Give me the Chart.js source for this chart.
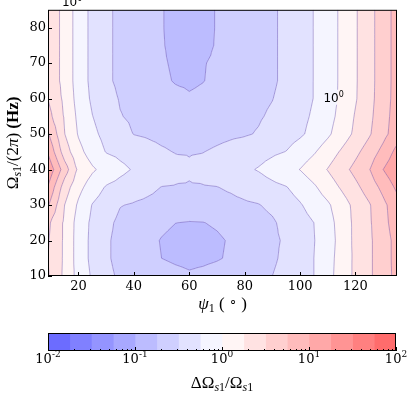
<!DOCTYPE html>
<html lang="en">
<head>
<meta charset="UTF-8">
<title>Contour</title>
<style>
  html, body { margin: 0; padding: 0; background: #fff; }
  #wrap { position: relative; width: 416px; height: 398px; }
  canvas { position: absolute; left: 0; }
  #contour { top: 0; }
  #cbar { top: 320px; }
</style>
</head>
<body>
<div id="wrap">
  <canvas id="contour" width="416" height="320"></canvas>
  <canvas id="cbar" width="416" height="78"></canvas>
</div>
<script src="https://cdn.jsdelivr.net/npm/chart.js@4.4.1/dist/chart.umd.min.js"></script>
<script>
// grid of the map: psi_1 (deg) along x, Omega_s1/(2pi) (Hz) along y
const psi = [9, 15, 20, 25, 30, 35, 40, 45, 50, 55, 60, 65, 70, 75, 80, 85, 90, 95, 100, 105, 110, 115, 120, 125, 130, 135];
const freq = [10, 15, 20, 25, 30, 35, 40, 45, 50, 55, 60, 65, 70, 75, 80, 85];

// log10(dOmega_s1 / Omega_s1), one row per frequency
const logRatio = [
  [0.52, 0.20, -0.09, -0.28, -0.45, -0.53, -0.57, -0.60, -0.64, -0.68, -0.72, -0.69, -0.65, -0.61, -0.57, -0.54, -0.50, -0.41, -0.33, -0.25, -0.08, 0.11, 0.30, 0.46, 0.64, 0.82],
  [0.50, 0.21, -0.11, -0.31, -0.47, -0.56, -0.63, -0.69, -0.75, -0.79, -0.81, -0.80, -0.77, -0.72, -0.66, -0.60, -0.54, -0.44, -0.35, -0.25, -0.09, 0.10, 0.30, 0.46, 0.64, 0.83],
  [0.52, 0.21, -0.11, -0.31, -0.47, -0.56, -0.63, -0.70, -0.76, -0.80, -0.82, -0.81, -0.78, -0.73, -0.67, -0.60, -0.54, -0.47, -0.36, -0.26, -0.11, 0.09, 0.31, 0.46, 0.64, 0.83],
  [0.55, 0.21, -0.10, -0.30, -0.44, -0.55, -0.60, -0.66, -0.71, -0.748, -0.76, -0.755, -0.725, -0.68, -0.63, -0.58, -0.53, -0.43, -0.34, -0.25, -0.09, 0.10, 0.31, 0.47, 0.67, 0.88],
  [0.78, 0.25, -0.04, -0.26, -0.37, -0.49, -0.52, -0.55, -0.58, -0.60, -0.63, -0.62, -0.58, -0.56, -0.535, -0.51, -0.45, -0.36, -0.27, -0.155, -0.035, 0.135, 0.32, 0.48, 0.69, 0.90],
  [0.98, 0.375, 0.075, -0.125, -0.27, -0.33, -0.39, -0.445, -0.505, -0.515, -0.52, -0.515, -0.505, -0.47, -0.415, -0.365, -0.31, -0.26, -0.155, -0.035, 0.12, 0.28, 0.44, 0.615, 0.82, 1.05],
  [1.20, 0.62, 0.20, 0.035, -0.085, -0.19, -0.27, -0.32, -0.37, -0.42, -0.465, -0.42, -0.375, -0.33, -0.29, -0.235, -0.155, -0.075, 0.005, 0.13, 0.26, 0.41, 0.57, 0.74, 1.00, 1.20],
  [0.97, 0.375, 0.075, -0.115, -0.26, -0.31, -0.365, -0.415, -0.47, -0.51, -0.515, -0.505, -0.465, -0.42, -0.38, -0.335, -0.29, -0.245, -0.135, -0.025, 0.125, 0.28, 0.44, 0.615, 0.825, 1.075],
  [0.78, 0.255, -0.02, -0.195, -0.32, -0.42, -0.505, -0.53, -0.56, -0.585, -0.61, -0.60, -0.565, -0.54, -0.52, -0.485, -0.42, -0.35, -0.285, -0.18, -0.04, 0.125, 0.30, 0.475, 0.675, 0.885],
  [0.59, 0.225, -0.055, -0.245, -0.37, -0.49, -0.535, -0.57, -0.605, -0.645, -0.68, -0.665, -0.615, -0.585, -0.55, -0.52, -0.47, -0.39, -0.31, -0.22, -0.085, 0.075, 0.27, 0.445, 0.65, 0.865],
  [0.495, 0.195, -0.095, -0.29, -0.41, -0.515, -0.555, -0.60, -0.645, -0.69, -0.73, -0.71, -0.655, -0.62, -0.58, -0.545, -0.505, -0.43, -0.335, -0.245, -0.105, 0.045, 0.23, 0.425, 0.63, 0.85],
  [0.42, 0.175, -0.12, -0.31, -0.46, -0.545, -0.61, -0.655, -0.71, -0.765, -0.78, -0.755, -0.71, -0.675, -0.635, -0.58, -0.53, -0.45, -0.35, -0.245, -0.105, 0.04, 0.225, 0.42, 0.625, 0.845],
  [0.42, 0.175, -0.12, -0.31, -0.46, -0.545, -0.61, -0.67, -0.725, -0.78, -0.82, -0.76, -0.72, -0.685, -0.635, -0.58, -0.53, -0.45, -0.35, -0.245, -0.105, 0.04, 0.225, 0.42, 0.625, 0.845],
  [0.42, 0.175, -0.12, -0.31, -0.46, -0.545, -0.61, -0.675, -0.735, -0.80, -0.84, -0.80, -0.735, -0.69, -0.635, -0.58, -0.53, -0.45, -0.35, -0.245, -0.105, 0.04, 0.225, 0.42, 0.625, 0.845],
  [0.42, 0.175, -0.12, -0.31, -0.46, -0.545, -0.61, -0.675, -0.74, -0.80, -0.84, -0.80, -0.74, -0.69, -0.635, -0.58, -0.53, -0.45, -0.35, -0.245, -0.105, 0.04, 0.225, 0.42, 0.625, 0.845],
  [0.42, 0.175, -0.12, -0.31, -0.46, -0.545, -0.61, -0.675, -0.74, -0.80, -0.84, -0.80, -0.74, -0.69, -0.635, -0.58, -0.53, -0.45, -0.35, -0.245, -0.105, 0.04, 0.225, 0.42, 0.625, 0.845]
];

// contour levels (log10), 16 bands from 10^-2 to 10^2
const levels = [-2, -1.75, -1.5, -1.25, -1, -0.75, -0.5, -0.25, 0, 0.25, 0.5, 0.75, 1, 1.25, 1.5, 1.75, 2];
const binColors = ['#6c6cff', '#8080ff', '#9494ff', '#a8a8ff', '#bcbcff', '#cfcfff', '#e2e2ff', '#f5f5ff',
                   '#fff5f5', '#ffe2e2', '#ffcfcf', '#ffbcbc', '#ffa8a8', '#ff9494', '#ff8080', '#ff6c6c'];

const psiTicks = [20, 40, 60, 80, 100, 120];
const freqTicks = [10, 20, 30, 40, 50, 60, 70, 80];
const cbarExps = [-2, -1, 0, 1, 2];

// where the two "10^0" labels sit on the unity contour
const unityLabels = [{ psi: 112.1, freq: 59.1, cut: true }, { psi: 17.7, freq: 86.0, cut: false }];

const serif = "'Liberation Serif', serif";
const tickFamily = "'DejaVu Serif', serif";
const lineColor = 'rgba(105, 80, 170, 0.55)';

function hexToRgb(h) {
  return [parseInt(h.slice(1, 3), 16), parseInt(h.slice(3, 5), 16), parseInt(h.slice(5, 7), 16)];
}

function locate(arr, v) {
  for (let i = 0; i < arr.length - 2; i++) if (v < arr[i + 1]) return i;
  return arr.length - 2;
}

// every cell is split in four triangles around its centre, fill and lines share them
function cellTriangles(i, j) {
  const x0 = psi[i], x1 = psi[i + 1], y0 = freq[j], y1 = freq[j + 1];
  const A = [x0, y0, logRatio[j][i]], B = [x1, y0, logRatio[j][i + 1]];
  const C = [x1, y1, logRatio[j + 1][i + 1]], D = [x0, y1, logRatio[j + 1][i]];
  const M = [(x0 + x1) / 2, (y0 + y1) / 2, (A[2] + B[2] + C[2] + D[2]) / 4];
  return [[A, B, M], [B, C, M], [C, D, M], [D, A, M]];
}

function bary(x, y, t) {
  const [p1, p2, p3] = t;
  const det = (p2[1] - p3[1]) * (p1[0] - p3[0]) + (p3[0] - p2[0]) * (p1[1] - p3[1]);
  const l1 = ((p2[1] - p3[1]) * (x - p3[0]) + (p3[0] - p2[0]) * (y - p3[1])) / det;
  const l2 = ((p3[1] - p1[1]) * (x - p3[0]) + (p1[0] - p3[0]) * (y - p3[1])) / det;
  return l1 * p1[2] + l2 * p2[2] + (1 - l1 - l2) * p3[2];
}

function valueAt(x, y) {
  const i = locate(psi, x), j = locate(freq, y);
  const u = (x - psi[i]) / (psi[i + 1] - psi[i]);
  const v = (y - freq[j]) / (freq[j + 1] - freq[j]);
  const tris = cellTriangles(i, j);
  let t;
  if (v <= u && v <= 1 - u) t = tris[0];
  else if (u >= v && u >= 1 - v) t = tris[1];
  else if (v >= u && v >= 1 - u) t = tris[2];
  else t = tris[3];
  return bary(x, y, t);
}

function binOf(z) {
  for (let k = levels.length - 2; k > 0; k--) if (z >= levels[k]) return k;
  return 0;
}

function crossing(tri, L) {
  const pts = [];
  for (let e = 0; e < 3; e++) {
    const p = tri[e], q = tri[(e + 1) % 3];
    if ((p[2] >= L) !== (q[2] >= L)) {
      const t = (L - p[2]) / (q[2] - p[2]);
      pts.push([p[0] + t * (q[0] - p[0]), p[1] + t * (q[1] - p[1])]);
    }
  }
  return pts.length === 2 ? pts : null;
}

// draws runs of text (for sub/superscripts) centred on cx
function drawRuns(ctx, runs, cx, cy, angle) {
  ctx.save();
  ctx.translate(cx, cy);
  ctx.rotate(angle || 0);
  let total = 0;
  runs.forEach(r => { ctx.font = r.font; r.w = ctx.measureText(r.t).width; total += r.w; });
  let xp = -total / 2;
  ctx.fillStyle = '#000';
  ctx.textAlign = 'left';
  ctx.textBaseline = 'alphabetic';
  runs.forEach(r => { ctx.font = r.font; ctx.fillText(r.t, xp, r.dy || 0); xp += r.w; });
  ctx.restore();
  return total;
}

function unityRuns() {
  return [
    { t: '10', font: "12px 'DejaVu Sans', sans-serif" },
    { t: '0', font: "8px 'DejaVu Sans', sans-serif", dy: -5 }
  ];
}

const contourPlugin = {
  id: 'contourFill',
  beforeDatasetsDraw(chart) {
    const { ctx, chartArea: a, scales: { x, y } } = chart;
    const left = Math.round(a.left), top = Math.round(a.top);
    const w = Math.round(a.right) - left, h = Math.round(a.bottom) - top;
    const img = ctx.createImageData(w, h);
    const rgb = binColors.map(hexToRgb);
    for (let j = 0; j < h; j++) {
      const fv = y.getValueForPixel(top + j + 0.5);
      for (let i = 0; i < w; i++) {
        const c = rgb[binOf(valueAt(x.getValueForPixel(left + i + 0.5), fv))];
        const o = (j * w + i) * 4;
        img.data[o] = c[0]; img.data[o + 1] = c[1]; img.data[o + 2] = c[2]; img.data[o + 3] = 255;
      }
    }
    ctx.putImageData(img, left, top);

    // box for the inline label, the line is cut under it
    ctx.save();
    ctx.beginPath();
    ctx.rect(a.left, a.top, a.right - a.left, a.bottom - a.top);
    unityLabels.filter(l => l.cut).forEach(l => {
      const px = x.getPixelForValue(l.psi), py = y.getPixelForValue(l.freq);
      ctx.rect(px - 12, py - 12, 24, 15);
    });
    ctx.clip('evenodd');
    ctx.strokeStyle = lineColor;
    ctx.lineWidth = 0.8;
    for (let k = 1; k < levels.length - 1; k++) {
      ctx.beginPath();
      for (let j = 0; j < freq.length - 1; j++) {
        for (let i = 0; i < psi.length - 1; i++) {
          cellTriangles(i, j).forEach(t => {
            const s = crossing(t, levels[k]);
            if (!s) return;
            ctx.moveTo(x.getPixelForValue(s[0][0]), y.getPixelForValue(s[0][1]));
            ctx.lineTo(x.getPixelForValue(s[1][0]), y.getPixelForValue(s[1][1]));
          });
        }
      }
      ctx.stroke();
    }
    ctx.restore();
  },
  afterDraw(chart) {
    const { ctx, chartArea: a, scales: { x, y } } = chart;
    ctx.save();
    unityLabels.forEach(l => {
      drawRuns(ctx, unityRuns(), x.getPixelForValue(l.psi), y.getPixelForValue(l.freq));
    });
    ctx.strokeStyle = '#000';
    ctx.lineWidth = 1;
    ctx.strokeRect(a.left + 0.5, a.top + 0.5, a.right - a.left - 1, a.bottom - a.top - 1);
    ctx.beginPath();
    psiTicks.forEach(v => {
      const p = Math.round(x.getPixelForValue(v)) + 0.5;
      ctx.moveTo(p, a.bottom); ctx.lineTo(p, a.bottom - 4);
    });
    freqTicks.forEach(v => {
      const p = Math.round(y.getPixelForValue(v)) + 0.5;
      ctx.moveTo(a.left, p); ctx.lineTo(a.left + 4, p);
    });
    ctx.stroke();

    drawRuns(ctx, [
      { t: 'Ω', font: `17px ${serif}` },
      { t: 's', font: `italic 12px ${serif}`, dy: 3 },
      { t: '1', font: `12px ${serif}`, dy: 3 },
      { t: '/(2', font: `17px ${serif}` },
      { t: 'π', font: `italic 17px ${serif}` },
      { t: ') ', font: `17px ${serif}` },
      { t: '(Hz)', font: `bold 17px ${serif}` }
    ], 18, (a.top + a.bottom) / 2, -Math.PI / 2);

    drawRuns(ctx, [
      { t: 'ψ', font: `italic 17px ${serif}` },
      { t: '1', font: `12px ${serif}`, dy: 3 },
      { t: ' ( ', font: `17px ${serif}` },
      { t: '∘', font: `13px ${serif}`, dy: -4 },
      { t: ' )', font: `17px ${serif}` }
    ], (a.left + a.right) / 2, 309);
    ctx.restore();
  }
};

const tickFont = { family: tickFamily, size: 13 };

new Chart(document.getElementById('contour'), {
  type: 'scatter',
  data: { datasets: [] },
  options: {
    responsive: false,
    animation: false,
    events: [],
    layout: { padding: { top: 7, right: 19, left: 0, bottom: 0 } },
    plugins: { legend: { display: false }, tooltip: { enabled: false } },
    scales: {
      x: {
        type: 'linear', min: 9, max: 135,
        afterBuildTicks: s => { s.ticks = psiTicks.map(v => ({ value: v })); },
        afterFit: s => { s.height = 44; },
        grid: { display: false, drawTicks: false },
        border: { display: false },
        ticks: { padding: 3, color: '#000', font: tickFont, maxRotation: 0 }
      },
      y: {
        type: 'linear', min: 10, max: 85,
        afterBuildTicks: s => { s.ticks = freqTicks.map(v => ({ value: v })); },
        afterFit: s => { s.width = 48; },
        grid: { display: false, drawTicks: false },
        border: { display: false },
        ticks: { padding: 2, color: '#000', font: tickFont }
      }
    }
  },
  plugins: [contourPlugin]
});

const cbarPlugin = {
  id: 'cbarFrame',
  afterDraw(chart) {
    const { ctx, chartArea: a, scales: { x } } = chart;
    ctx.save();
    ctx.strokeStyle = '#000';
    ctx.lineWidth = 1;
    ctx.beginPath();
    for (let e = -2; e < 2; e++) {
      for (let m = 2; m < 10; m++) {
        const p = Math.round(x.getPixelForValue(m * Math.pow(10, e))) + 0.5;
        ctx.moveTo(p, a.bottom); ctx.lineTo(p, a.bottom - 2);
      }
    }
    cbarExps.forEach(e => {
      const p = Math.round(x.getPixelForValue(Math.pow(10, e))) + 0.5;
      ctx.moveTo(p, a.bottom); ctx.lineTo(p, a.bottom - 4);
    });
    ctx.stroke();
    ctx.strokeRect(a.left + 0.5, a.top + 0.5, a.right - a.left - 1, a.bottom - a.top - 1);

    cbarExps.forEach(e => {
      drawRuns(ctx, [
        { t: '10', font: `13px ${tickFamily}` },
        { t: String(e), font: `9px ${tickFamily}`, dy: -6 }
      ], x.getPixelForValue(Math.pow(10, e)), a.bottom + 12);
    });

    drawRuns(ctx, [
      { t: 'ΔΩ', font: `17px ${serif}` },
      { t: 's', font: `italic 12px ${serif}`, dy: 3 },
      { t: '1', font: `12px ${serif}`, dy: 3 },
      { t: '/Ω', font: `17px ${serif}` },
      { t: 's', font: `italic 12px ${serif}`, dy: 3 },
      { t: '1', font: `12px ${serif}`, dy: 3 }
    ], (a.left + a.right) / 2, 68);
    ctx.restore();
  }
};

new Chart(document.getElementById('cbar'), {
  type: 'bar',
  data: {
    labels: [''],
    datasets: binColors.map((c, k) => ({
      data: [[Math.pow(10, levels[k]), Math.pow(10, levels[k + 1])]],
      backgroundColor: c,
      borderWidth: 0,
      grouped: false,
      barPercentage: 1,
      categoryPercentage: 1
    }))
  },
  options: {
    indexAxis: 'y',
    responsive: false,
    animation: false,
    events: [],
    layout: { padding: { top: 13, left: 48, right: 20, bottom: 0 } },
    plugins: { legend: { display: false }, tooltip: { enabled: false } },
    scales: {
      x: {
        type: 'logarithmic', min: 0.01, max: 100,
        afterFit: s => { s.height = 47; },
        grid: { display: false },
        border: { display: false },
        ticks: { display: false }
      },
      y: { display: false }
    }
  },
  plugins: [cbarPlugin]
});
</script>
</body>
</html>
